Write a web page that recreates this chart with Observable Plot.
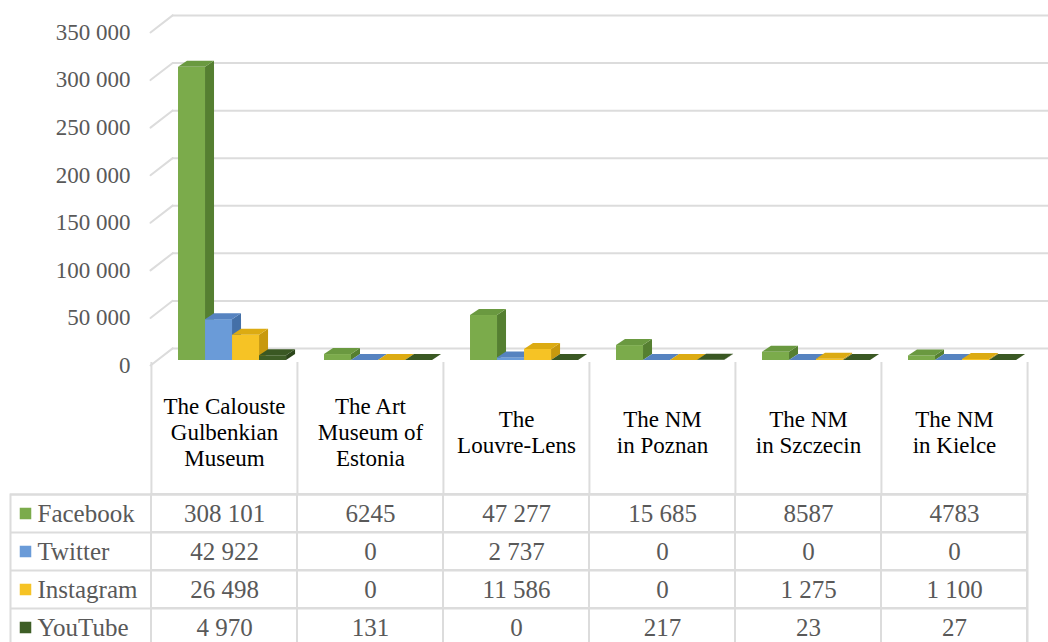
<!DOCTYPE html>
<html>
<head>
<meta charset="utf-8">
<script src="https://cdn.jsdelivr.net/npm/d3@7"></script>
<script src="https://cdn.jsdelivr.net/npm/@observablehq/plot@0.6"></script>
<style>
  html, body { margin: 0; padding: 0; background: #ffffff; }
  #chart svg { display: block; font-family: 'Liberation Serif', 'Times New Roman', serif; }
  #chart svg text { font-family: 'Liberation Serif', 'Times New Roman', serif; }
</style>
</head>
<body>
<div id="chart"></div>
<script>
// ---- data ----
const museums = ["The Calouste Gulbenkian Museum", "The Art Museum of Estonia", "The Louvre-Lens", "The NM in Poznan", "The NM in Szczecin", "The NM in Kielce"];
const museumLabels = ["The Calouste\nGulbenkian\nMuseum", "The Art\nMuseum of\nEstonia", "The\nLouvre-Lens", "The NM\nin Poznan", "The NM\nin Szczecin", "The NM\nin Kielce"];
const platforms = ["Facebook", "Twitter", "Instagram", "YouTube"];
const facebook = [308101, 6245, 47277, 15685, 8587, 4783];
const twitter = [42922, 0, 2737, 0, 0, 0];
const instagram = [26498, 0, 11586, 0, 1275, 1100];
const youtube = [4970, 131, 0, 217, 23, 27];
const facebookLabels = ["308 101", "6245", "47 277", "15 685", "8587", "4783"];
const twitterLabels = ["42 922", "0", "2 737", "0", "0", "0"];
const instagramLabels = ["26 498", "0", "11 586", "0", "1 275", "1 100"];
const youtubeLabels = ["4 970", "131", "0", "217", "23", "27"];
const yTicks = [0, 50000, 100000, 150000, 200000, 250000, 300000, 350000];

// ---- styles ----
const faceColors = [
  {front: "#7bab4b", side: "#557f31", top: "#6a9940"},
  {front: "#6a9bd8", side: "#4470a8", top: "#5683c0"},
  {front: "#f6c325", side: "#c8990e", top: "#dcab12"},
  {front: "#3e5e26", side: "#2c461a", top: "#3a5823"}
];
const gridColor = "#dcdcdc";
const textGray = "#595959";
const font = "'Liberation Serif', 'Times New Roman', serif";

const seriesValues = [facebook, twitter, instagram, youtube];
const seriesLabels = [facebookLabels, twitterLabels, instagramLabels, youtubeLabels];
const rows = platforms.flatMap((p, j) => museums.map((m, i) => ({museum: m, platform: p, value: seriesValues[j][i], label: seriesLabels[j][i]})));

const W = 1048, mL = 150, mR = 21;
const B = (W - mL - mR) / museums.length;
const fmt = d => d3.format(",")(d).replace(/,/g, " ");

// 3D bar faces drawn from the bar's scaled channels
function bar3d(j) {
  const c = faceColors[j];
  return function(index, scales, values) {
    const bw = typeof scales.x.bandwidth === "function" ? scales.x.bandwidth() : B;
    const w = bw * 0.185, off = bw * 0.185 + j * w, dx = 9, dy = 6, lift = 5;
    const g = d3.create("svg:g");
    for (const i of index) {
      const xl = values.x[i] + off, xr = xl + w;
      const yt = Math.min(values.y1[i], values.y2[i]) - lift;
      const yb = Math.max(values.y1[i], values.y2[i]) - lift;
      g.append("rect").attr("x", xl).attr("y", yt).attr("width", w).attr("height", Math.max(0, yb - yt)).attr("fill", c.front);
      g.append("path").attr("d", `M${xr},${yt}L${xr + dx},${yt - dy}L${xr + dx},${yb - dy}L${xr},${yb}Z`).attr("fill", c.side);
      g.append("path").attr("d", `M${xl},${yt}L${xr},${yt}L${xr + dx},${yt - dy}L${xl + dx},${yt - dy}Z`).attr("fill", c.top);
    }
    return g.node();
  };
}

const diag = {draw(ctx, l) { ctx.moveTo(0, 0); ctx.lineTo(0, -l); }};

const chartSvg = Plot.plot({
  width: W,
  height: 493,
  marginLeft: mL,
  marginRight: mR,
  marginTop: 32,
  marginBottom: 128,
  style: {fontFamily: font, background: "#ffffff"},
  x: {domain: museums, padding: 0, axis: null},
  y: {domain: [0, 350000], axis: null},
  marks: [
    Plot.ruleY(yTicks, {y: d => d, dy: -17, insetLeft: 22, insetRight: -mR, stroke: gridColor, strokeWidth: 2}),
    Plot.vector(yTicks, {y: d => d, frameAnchor: "left", length: 28, rotate: 52.3, anchor: "start", shape: diag, stroke: gridColor, strokeWidth: 2}),
    Plot.axisY({ticks: yTicks, tickFormat: fmt, tickSize: 0, tickPadding: 20, fontSize: 23, fontFamily: font, fill: textGray, label: null}),
    ...platforms.map((p, j) => Plot.barY(rows.filter(d => d.platform === p), {x: "museum", y: "value", render: bar3d(j)})),
    Plot.ruleX(museums, {x: d => d, dx: -B / 2, insetTop: 330, insetBottom: -128, stroke: gridColor, strokeWidth: 2}),
    Plot.ruleX([museums[museums.length - 1]], {x: d => d, dx: B / 2, insetTop: 330, insetBottom: -128, stroke: gridColor, strokeWidth: 2}),
    Plot.text(museums, {x: d => d, text: (d, i) => museumLabels[i], frameAnchor: "bottom", dy: 66, lineAnchor: "middle", lineHeight: 1.13, fontSize: 23, fontFamily: font, fill: "#000000"})
  ]
});

const tableSvg = Plot.plot({
  width: W,
  height: 149,
  marginLeft: mL,
  marginRight: mR,
  marginTop: 1,
  marginBottom: -4,
  style: {fontFamily: font, background: "#ffffff"},
  x: {domain: museums, padding: 0, axis: null},
  y: {domain: platforms, padding: 0, axis: null},
  marks: [
    Plot.cell(rows, {x: "museum", y: "platform", fill: "none", stroke: gridColor, strokeWidth: 2}),
    Plot.ruleY(platforms, {y: d => d, dy: -19, insetLeft: -140, stroke: gridColor, strokeWidth: 2}),
    Plot.frame({insetLeft: -140, stroke: gridColor, strokeWidth: 2}),
    Plot.text(rows, {x: "museum", y: "platform", text: "label", fontSize: 25, fontFamily: font, fill: textGray}),
    Plot.dot(platforms, {y: d => d, frameAnchor: "left", dx: -125, symbol: "square", r: 6.5, fill: (d, i) => faceColors[i].front, stroke: "none"}),
    Plot.text(platforms, {y: d => d, text: d => d, frameAnchor: "left", dx: -113, textAnchor: "start", fontSize: 25, fontFamily: font, fill: textGray})
  ]
});

const el = document.getElementById("chart");
el.append(chartSvg, tableSvg);
</script>
</body>
</html>
